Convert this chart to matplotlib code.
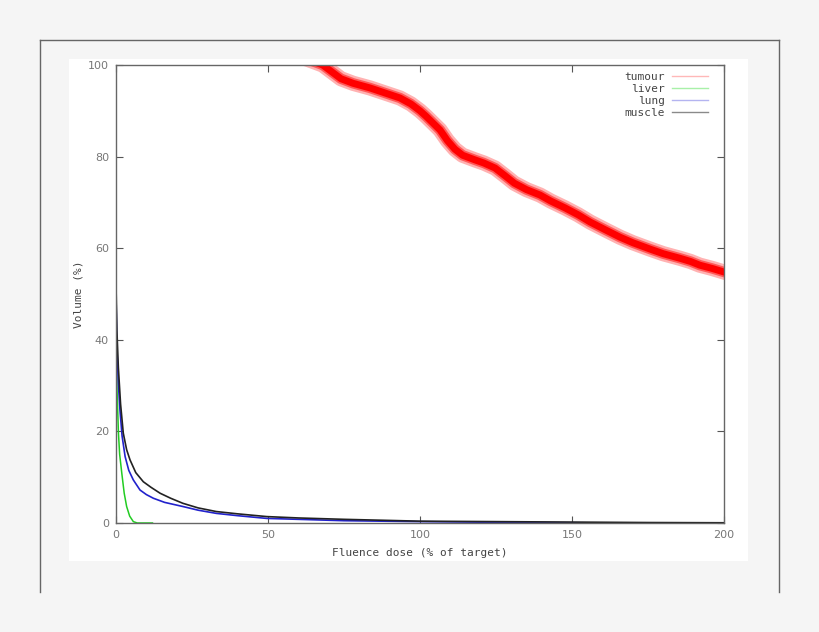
import matplotlib
matplotlib.use("Agg")
import matplotlib.pyplot as plt
from matplotlib.lines import Line2D
from matplotlib.patches import Rectangle

# dose-volume histogram values
tumour_dose = [64, 68, 71, 74, 78, 83.5, 88, 93.4, 97, 100, 102, 104, 106.6, 109, 111.5,
               114, 118, 121, 124.7, 128, 131, 135, 139.5, 143, 147.7, 152, 156, 161,
               165.8, 170, 175.7, 180, 185.5, 189, 192, 196, 200, 203]
tumour_vol = [101, 100, 98.5, 97, 96, 95, 94, 92.8, 91.5, 90, 88.8, 87.5, 85.8, 83.5,
              81.6, 80.3, 79.3, 78.6, 77.5, 75.8, 74.2, 72.8, 71.6, 70.3, 68.8, 67.3,
              65.7, 64, 62.4, 61.2, 59.8, 58.8, 57.8, 57.1, 56.3, 55.6, 54.8, 54.2]

liver_dose = [0, 0, 0.3, 0.8, 1.2, 1.9, 2.7, 3.5, 4.5, 5.7, 7, 12]
liver_vol = [62, 45, 30, 19.7, 15, 10.9, 6.5, 3.6, 1.5, 0.3, 0, 0]

lung_dose = [0, 0, 0.3, 0.77, 1.3, 2, 3, 4.2, 5.7, 7.9, 10, 12.3, 16, 22, 27, 33, 40,
             49.6, 60, 75, 100, 125, 150, 170]
lung_vol = [62, 50, 38, 30.5, 24.7, 19, 14.5, 11.5, 9.4, 7.2, 6.2, 5.4, 4.5, 3.6, 2.8,
            2.1, 1.6, 1.0, 0.8, 0.5, 0.3, 0.15, 0.05, 0]

muscle_dose = [0, 0, 0.3, 0.77, 1.5, 2.4, 3.5, 4.6, 6.5, 9, 11.5, 14.5, 18, 22, 27, 33,
               40, 49.6, 60, 75, 100, 125, 150, 175, 200]
muscle_vol = [62, 52, 42, 34, 26, 19.6, 16, 13.8, 11, 9, 7.8, 6.5, 5.4, 4.3, 3.3, 2.5,
              2.0, 1.4, 1.1, 0.8, 0.4, 0.3, 0.2, 0.1, 0.05]

names = ["tumour", "liver", "lung", "muscle"]
legend_colors = ["#ffb8b8", "#a8f0a8", "#b4b4f0", "#8a8a8a"]

fig = plt.figure(figsize=(8.2, 6.32), dpi=100)
fig.patch.set_facecolor("#f5f5f5")

# page frame and white plot card
W, H = 820, 632
fig.patches.append(Rectangle((69 / W, 1 - 561 / H), (748 - 69) / W, (561 - 59) / H,
                             transform=fig.transFigure, facecolor="white",
                             edgecolor="none", zorder=-5))
for xs, ys in [([40, 40], [40, 592]), ([779, 779], [40, 592]), ([40, 779], [40, 40])]:
    fig.lines.append(Line2D([x / W for x in xs], [1 - y / H for y in ys],
                            transform=fig.transFigure, color="#666666", lw=1.0,
                            zorder=-4))

ax = fig.add_axes([116 / W, 1 - 523 / H, 608 / W, 458 / H])
ax.set_zorder(2)
ax.set_facecolor("white")

ax.plot(tumour_dose, tumour_vol, color="red", lw=11, alpha=0.3)
ax.plot(tumour_dose, tumour_vol, color="red", lw=7.5, alpha=0.5)
ax.plot(tumour_dose, tumour_vol, color="red", lw=5)
ax.plot(liver_dose, liver_vol, color="#22cc22", lw=1.1)
ax.plot(lung_dose, lung_vol, color="#2222cc", lw=1.2)
ax.plot(muscle_dose, muscle_vol, color="#222222", lw=1.2)

ax.set_xlim(0, 200)
ax.set_ylim(0, 100)
ax.set_xticks([0, 50, 100, 150, 200])
ax.set_yticks([0, 20, 40, 60, 80, 100])
ax.tick_params(direction="in", length=5, width=0.8, color="#555555",
               top=True, right=True, labelsize=8, labelcolor="#777777", pad=5)
for sp in ax.spines.values():
    sp.set_color("#666666")
    sp.set_linewidth(1.0)

ax.set_xlabel("Fluence dose (% of target)", family="monospace", fontsize=8,
              color="#444444", labelpad=6)
ax.set_ylabel("Volume (%)", family="monospace", fontsize=8, color="#444444", labelpad=3)

handles = [Line2D([], [], color=c, lw=1.0) for c in legend_colors]
leg = ax.legend(handles, names, loc="upper right", frameon=False, markerfirst=False,
                prop={"family": "monospace", "size": 8}, handlelength=3.3,
                handletextpad=0.6, labelspacing=0.2, borderaxespad=0.2,
                bbox_to_anchor=(0.985, 1.0))
for t in leg.get_texts():
    t.set_color("#444444")
    t.set_ha("right")

fig.savefig("out.png", dpi=100, facecolor=fig.get_facecolor())
